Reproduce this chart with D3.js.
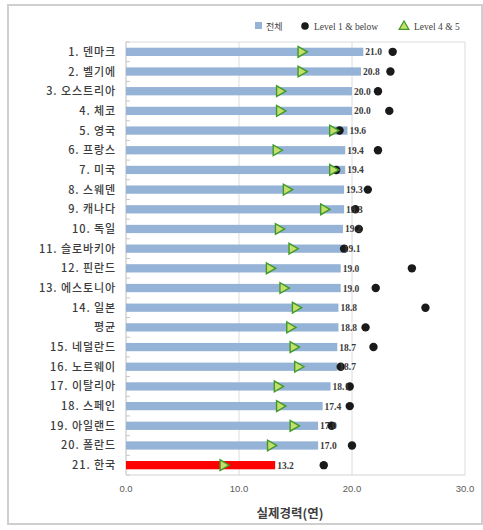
<!DOCTYPE html>
<html><head><meta charset="utf-8">
<script src="https://cdn.jsdelivr.net/npm/d3@7"></script>
<style>body{margin:0;background:#fff}svg{display:block}</style>
</head><body>
<script>
const categories = ["1. 덴마크","2. 벨기에","3. 오스트리아","4. 체코","5. 영국","6. 프랑스","7. 미국","8. 스웨덴","9. 캐나다","10. 독일","11. 슬로바키아","12. 핀란드","13. 에스토니아","14. 일본","평균","15. 네덜란드","16. 노르웨이","17. 이탈리아","18. 스페인","19. 아일랜드","20. 폴란드","21. 한국"];
const totalValues = [21.0,20.8,20.0,20.0,19.6,19.4,19.4,19.3,19.3,19.2,19.1,19.0,19.0,18.8,18.8,18.7,18.7,18.1,17.4,17.0,17.0,13.2];
const level1Values = [23.6,23.4,22.3,23.3,18.9,22.3,18.6,21.4,20.3,20.6,19.3,25.3,22.1,26.5,21.2,21.9,19.0,19.8,19.8,18.2,20.0,17.5];
const level45Values = [15.5,15.5,13.6,13.6,18.3,13.3,18.3,14.2,17.5,13.5,14.7,12.7,13.9,15.0,14.5,14.8,15.2,13.4,13.6,14.8,12.8,8.6];
const xTicks = [0,10,20,30];
const legendLabels = ["전체","Level 1 & below","Level 4 & 5"];
const xTitle = "실제경력(연)";

(function(){
const W=483,H=530;
const svg=d3.select("body").append("svg").attr("width",W).attr("height",H);
const kfont='"Noto Sans CJK KR","Noto Sans",sans-serif';

svg.append("rect").attr("x",8).attr("y",5).attr("width",474).attr("height",519)
  .attr("fill","none").attr("stroke","#cfcfcf").attr("stroke-width",2);

const pL=126,pR=465,pT=42,pB=475;
const x=d3.scaleLinear().domain([0,30]).range([pL,pR]);
const y=d3.scaleBand().domain(categories).range([pT,pB]).paddingInner(0.58).paddingOuter(0.29);
const step=y.step();

xTicks.forEach(t=>{
  if(t>0) svg.append("line").attr("x1",x(t)).attr("x2",x(t)).attr("y1",pT).attr("y2",pB)
    .attr("stroke","#dcdcdc").attr("stroke-width",1);
});
svg.append("line").attr("x1",pL).attr("x2",pR).attr("y1",pT).attr("y2",pT).attr("stroke","#dcdcdc");

d3.range(categories.length+1).forEach(i=>{
  const yy=pT+i*step;
  svg.append("line").attr("x1",pL).attr("x2",pL+4).attr("y1",yy).attr("y2",yy).attr("stroke","#c8c8c8");
});
svg.append("line").attr("x1",pL).attr("x2",pL).attr("y1",pT).attr("y2",pB).attr("stroke","#bdbdbd");
svg.append("line").attr("x1",pL).attr("x2",pR).attr("y1",pB).attr("y2",pB).attr("stroke","#d4d4d4");

svg.selectAll("rect.bar").data(categories).enter().append("rect").attr("class","bar")
  .attr("x",pL).attr("y",d=>y(d)).attr("height",y.bandwidth())
  .attr("width",(d,i)=>x(totalValues[i])-pL)
  .attr("fill",(d,i)=>d==="21. 한국"?"#ff0000":"#95b3d7");

svg.selectAll("circle.l1").data(categories).enter().append("circle").attr("class","l1")
  .attr("cx",(d,i)=>x(level1Values[i])).attr("cy",d=>y(d)+y.bandwidth()/2).attr("r",4.2)
  .attr("fill","#1a1a1a");

const tri=d3.symbol().type(d3.symbolTriangle).size(50);
svg.selectAll("path.l45").data(categories).enter().append("path").attr("class","l45")
  .attr("d",tri)
  .attr("transform",(d,i)=>`translate(${x(level45Values[i])},${y(d)+y.bandwidth()/2}) rotate(90)`)
  .attr("fill","#c6df6a").attr("stroke","#3f9a2a").attr("stroke-width",1.4);

svg.selectAll("text.val").data(categories).enter().append("text").attr("class","val")
  .attr("x",(d,i)=>x(totalValues[i])+2).attr("y",d=>y(d)+y.bandwidth()/2+3.5)
  .attr("font-family",'"Liberation Serif",serif').attr("font-size",9.5).attr("font-weight","bold")
  .attr("fill","#3a3a3a").text((d,i)=>totalValues[i].toFixed(1));

svg.selectAll("text.cat").data(categories).enter().append("text").attr("class","cat")
  .attr("x",116).attr("y",d=>y(d)+y.bandwidth()/2+4)
  .attr("text-anchor","end").attr("font-family",kfont).attr("font-size",11).attr("font-weight",500)
  .attr("letter-spacing","0.9px")
  .attr("fill","#3c3c3c").text(d=>d);

svg.selectAll("text.xt").data(xTicks).enter().append("text").attr("class","xt")
  .attr("x",d=>x(d)).attr("y",492).attr("text-anchor","middle")
  .attr("font-family",'"Liberation Sans",sans-serif').attr("font-size",9.5)
  .attr("fill","#595959").text(d=>d.toFixed(1));

svg.append("text").attr("x",290).attr("y",518).attr("text-anchor","middle")
  .attr("font-family",kfont).attr("font-size",12.5).attr("font-weight","bold")
  .attr("fill","#404040").text(xTitle);

const ly=26;
svg.append("rect").attr("x",255).attr("y",ly-4).attr("width",7).attr("height",7).attr("fill","#95b3d7");
svg.append("text").attr("x",266).attr("y",ly+3.5).attr("font-family",kfont).attr("font-size",9)
  .attr("fill","#404040").text(legendLabels[0]);
svg.append("circle").attr("cx",305).attr("cy",ly).attr("r",3.8).attr("fill","#1a1a1a");
svg.append("text").attr("x",314).attr("y",ly+3.5).attr("font-family",'"Liberation Serif",serif').attr("font-size",9.5)
  .attr("fill","#404040").text(legendLabels[1]);
svg.append("path").attr("d",d3.symbol().type(d3.symbolTriangle).size(40))
  .attr("transform",`translate(404,${ly+0.5})`)
  .attr("fill","#c6df6a").attr("stroke","#3f9a2a").attr("stroke-width",1.3);
svg.append("text").attr("x",414).attr("y",ly+3.5).attr("font-family",'"Liberation Serif",serif').attr("font-size",9.5)
  .attr("fill","#404040").text(legendLabels[2]);
})();
</script>
</body></html>
